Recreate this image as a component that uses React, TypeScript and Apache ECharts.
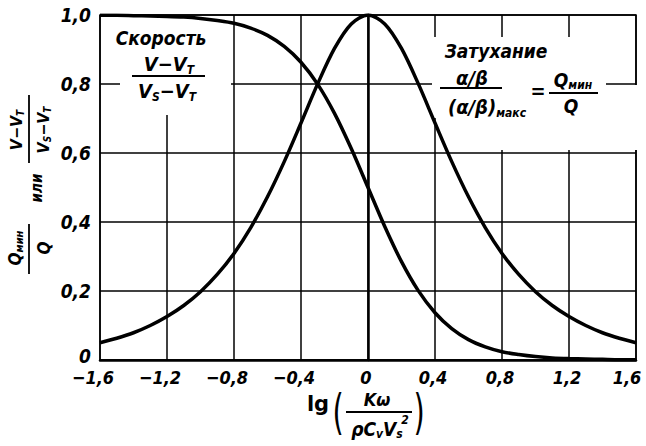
import React, { useEffect, useRef } from "react";
import * as echarts from "echarts";

// lg(Kω / ρCvVs²) sample points
const xPoints = [
  -1.6, -1.5, -1.4, -1.3, -1.2, -1.1, -1.0, -0.9, -0.8, -0.7, -0.6, -0.5, -0.4,
  -0.3, -0.2, -0.1, 0, 0.1, 0.2, 0.3, 0.4, 0.5, 0.6, 0.7, 0.8, 0.9, 1.0, 1.1,
  1.2, 1.3, 1.4, 1.5, 1.6,
];

// Скорость (V − VT)/(VS − VT)
const speedValues = [
  0.999, 0.999, 0.998, 0.997, 0.996, 0.994, 0.99, 0.984, 0.976, 0.962, 0.941,
  0.909, 0.863, 0.799, 0.715, 0.613, 0.5, 0.387, 0.285, 0.201, 0.137, 0.091,
  0.059, 0.038, 0.024, 0.016, 0.01, 0.006, 0.004, 0.003, 0.002, 0.001, 0.001,
];

// Затухание Qмин/Q
const dampingValues = [
  0.05, 0.063, 0.079, 0.1, 0.126, 0.158, 0.198, 0.248, 0.309, 0.384, 0.473,
  0.575, 0.687, 0.801, 0.903, 0.974, 1.0, 0.974, 0.903, 0.801, 0.687, 0.575,
  0.473, 0.384, 0.309, 0.248, 0.198, 0.158, 0.126, 0.1, 0.079, 0.063, 0.05,
];

const xTicks = { min: -1.6, max: 1.6, step: 0.4 };
const yTicks = { min: 0, max: 1.0, step: 0.2 };

const FONT = "'DejaVu Sans Condensed', 'Liberation Sans Narrow', 'DejaVu Sans', sans-serif";
const ITALIC = "'DejaVu Sans Condensed', 'DejaVu Sans', 'Liberation Sans', sans-serif";

function fmtTick(v: number): string {
  const r = Math.round(v * 10) / 10;
  if (r === 0) return "0";
  return r.toFixed(1).replace(".", ",").replace("-", "−");
}

// x tick labels: minus sign hangs left of the gridline, last label kept inside
function fmtXTick(v: number): string {
  const r = Math.round(v * 10) / 10;
  const s = fmtTick(v);
  if (r < 0) return `{neg|${s}}`;
  if (r >= 1.6) return `{last|${s}}`;
  return `{pos|${s}}`;
}

// y tick labels: the zero sits a little above the corner
function fmtYTick(v: number): string {
  const s = fmtTick(v);
  return Math.abs(v) < 1e-9 ? `{zero|${s}}` : `{val|${s}}`;
}

// rich-text styles for formula pieces (main glyphs + subscripts)
function richSet(size: number) {
  const sub = Math.round(size * 0.62);
  return {
    m: { fontSize: size, fontStyle: "italic", fontWeight: "bold", fontFamily: ITALIC, color: "#000", lineHeight: size + 2, verticalAlign: "middle" },
    s: { fontSize: sub, fontStyle: "italic", fontWeight: "bold", fontFamily: ITALIC, color: "#000", lineHeight: sub, padding: [Math.round(size * 0.55), 0, 0, 0], verticalAlign: "middle" },
  };
}

function formula(x: number, y: number, text: string, size: number, extra: any = {}) {
  return {
    type: "text",
    x,
    y,
    z: 10,
    style: {
      text,
      rich: richSet(size),
      align: "center",
      verticalAlign: "middle",
      fill: "#000",
      ...extra,
    },
  };
}

function plain(x: number, y: number, text: string, size: number, extra: any = {}) {
  return {
    type: "text",
    x,
    y,
    z: 10,
    style: {
      text,
      fontSize: size,
      fontStyle: "italic",
      fontWeight: "bold",
      fontFamily: ITALIC,
      fill: "#000",
      align: "center",
      verticalAlign: "middle",
      ...extra,
    },
  };
}

function bar(x1: number, y1: number, x2: number, y2: number, w = 1.8) {
  return {
    type: "line",
    z: 10,
    shape: { x1, y1, x2, y2 },
    style: { stroke: "#000", lineWidth: w },
  };
}

function mask(x: number, y: number, width: number, height: number) {
  return {
    type: "rect",
    z: 1,
    shape: { x, y, width, height },
    style: { fill: "#fff" },
  };
}

function paren(x: number, y: number, ch: string) {
  return {
    type: "text",
    x,
    y,
    z: 10,
    scaleX: 0.6,
    style: { text: ch, fontSize: 48, fontWeight: "normal", fontFamily: "'DejaVu Sans', sans-serif", fill: "#000", align: "center", verticalAlign: "middle" },
  };
}

export default function App() {
  const ref = useRef<HTMLDivElement>(null);

  useEffect(() => {
    if (!ref.current) return;
    const chart = echarts.init(ref.current, undefined, { renderer: "svg" });

    const speedData = xPoints.map((x, i) => [x, speedValues[i]]);
    const dampingData = xPoints.map((x, i) => [x, dampingValues[i]]);

    const tickFont = {
      fontSize: 18,
      fontStyle: "italic",
      fontWeight: "bold",
      fontFamily: FONT,
      color: "#000",
    };

    chart.setOption({
      animation: false,
      backgroundColor: "#fff",
      grid: {
        left: 100,
        right: 10,
        top: 15,
        bottom: 86,
        outerBoundsMode: "none",
        containLabel: false,
        show: true,
        borderColor: "#000",
        borderWidth: 1.5,
        backgroundColor: "transparent",
      },
      xAxis: {
        type: "value",
        min: xTicks.min,
        max: xTicks.max,
        interval: xTicks.step,
        axisLine: { show: true, onZero: false, lineStyle: { color: "#000", width: 2.5 } },
        axisTick: { show: false },
        splitLine: { show: true, lineStyle: { color: "#000", width: 1.5 } },
        axisLabel: {
          ...tickFont,
          margin: 8,
          formatter: (v: number) => fmtXTick(v),
          rich: {
            neg: { ...tickFont, padding: [0, 14, 0, 0] },
            pos: { ...tickFont, padding: [0, 4, 0, 0] },
            last: { ...tickFont, padding: [0, 18, 0, 0] },
          },
        },
      },
      yAxis: {
        type: "value",
        min: yTicks.min,
        max: yTicks.max,
        interval: yTicks.step,
        axisLine: { show: true, lineStyle: { color: "#000", width: 2.5 } },
        axisTick: { show: false },
        splitLine: { show: true, lineStyle: { color: "#000", width: 1.5 } },
        axisLabel: {
          ...tickFont,
          fontSize: 19,
          margin: 9,
          formatter: (v: number) => fmtYTick(v),
          rich: {
            val: { ...tickFont, fontSize: 19 },
            zero: { ...tickFont, fontSize: 19, padding: [0, 0, 9, 0] },
          },
        },
      },
      series: [
        {
          name: "Скорость",
          type: "line",
          z: 5,
          data: speedData,
          smooth: 0.3,
          showSymbol: false,
          lineStyle: { color: "#000", width: 3.5 },
        },
        {
          name: "Затухание",
          type: "line",
          z: 5,
          data: dampingData,
          smooth: 0.3,
          showSymbol: false,
          lineStyle: { color: "#000", width: 3.5 },
        },
      ],
      graphic: [
        // blank areas behind the in-plot captions
        mask(120, 16, 111, 99),
        mask(432, 37, 174, 81),
        mask(440, 85, 200, 65),

        // "Скорость" caption
        plain(161, 38, "Скорость", 19),
        formula(169, 64, "{m|V−V}{s|T}", 20),
        bar(132, 76, 205, 76),
        formula(167, 91, "{m|V}{s|S}{m|−V}{s|T}", 20),

        // "Затухание" caption
        plain(496, 51, "Затухание", 19),
        formula(472, 78, "{m|α/β}", 20),
        bar(440, 88, 502, 88),
        formula(487, 107, "{m|(α/β)}{s|макс}", 20),
        plain(538, 91, "=", 20, { fontStyle: "normal" }),
        formula(573, 80, "{m|Q}{s|мин}", 19),
        bar(549, 93, 598, 93),
        plain(571, 106, "Q", 19),

        // x-axis title
        {
          type: "text",
          x: 318,
          y: 404,
          z: 10,
          style: { text: "lg", fontSize: 21, fontWeight: "bold", fontFamily: "'DejaVu Sans', sans-serif", fill: "#000", align: "center", verticalAlign: "middle" },
        },
        paren(338, 412, "("),
        formula(377, 399, "{m|Kω}", 18),
        bar(346, 412, 412, 412),
        formula(377, 429, "{m|ρC}{s|v}{m|V}{s|s}", 19),
        plain(405, 420, "2", 12),
        paren(419, 412, ")"),

        // y-axis title, read bottom to top
        {
          type: "group",
          x: 29,
          y: 188,
          rotation: Math.PI / 2,
          children: [
            formula(58, -13, "{m|V−V}{s|T}", 16),
            bar(25, 0, 93, 0, 1.8),
            formula(58, 14, "{m|V}{s|S}{m|−V}{s|T}", 16),
            plain(0, 8, "или", 15),
            formula(-60, -14, "{m|Q}{s|мин}", 17),
            bar(-36, 0, -86, 0, 1.8),
            plain(-60, 15, "Q", 17),
          ],
        },
      ],
    });

    return () => chart.dispose();
  }, []);

  return (
    <div
      ref={ref}
      style={{ position: "fixed", left: 0, top: 0, width: 646, height: 446, background: "#fff" }}
    />
  );
}
